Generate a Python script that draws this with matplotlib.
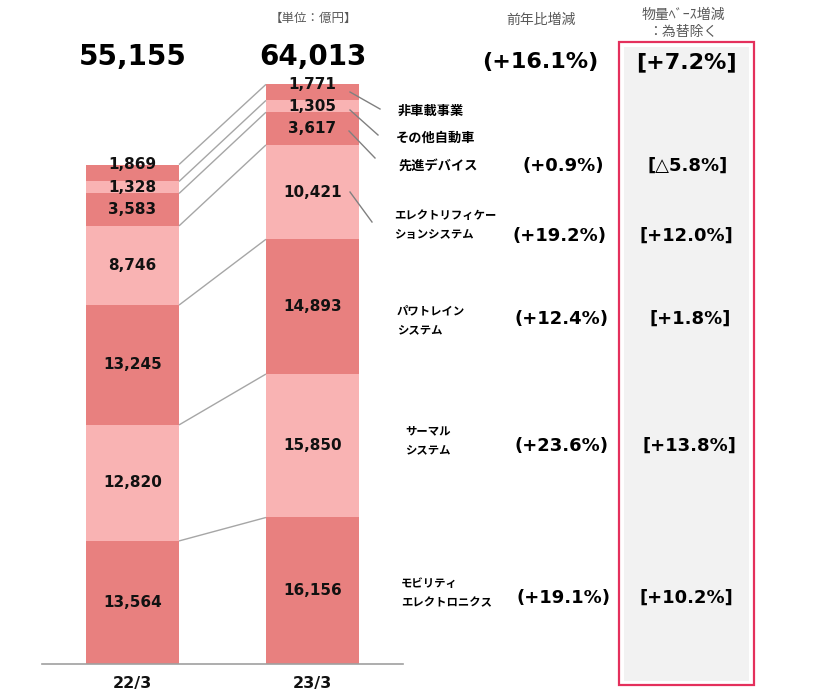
import matplotlib.pyplot as plt
from matplotlib.patches import Rectangle
from matplotlib.transforms import blended_transform_factory

plt.rcParams['font.family'] = ['DejaVu Sans', 'Noto Sans CJK JP']

periods = ['22/3', '23/3']
segments = ['モビリティ\nエレクトロニクス', 'サーマル\nシステム', 'パワトレイン\nシステム',
            'エレクトリフィケー\nションシステム', '先進デバイス', 'その他自動車', '非車載事業']
values_22 = [13564, 12820, 13245, 8746, 3583, 1328, 1869]
values_23 = [16156, 15850, 14893, 10421, 3617, 1305, 1771]
totals = [55155, 64013]
yoy = ['(+19.1%)', '(+23.6%)', '(+12.4%)', '(+19.2%)', '(+0.9%)', None, None]
vol = ['[+10.2%]', '[+13.8%]', '[+1.8%]', '[+12.0%]', '[△5.8%]', None, None]
yoy_total = '(+16.1%)'
vol_total = '[+7.2%]'

dark = '#E8807F'
light = '#F9B3B3'
seg_colors = [dark, light, dark, light, dark, light, dark]
jp = ['Noto Sans CJK JP', 'DejaVu Sans']

W, H = 834, 697
fig = plt.figure(figsize=(W / 100, H / 100), dpi=100)


def px(x, y):
    return x / W, 1 - y / H


# bars axis: baseline at y=663.7px, 0.00905 px per unit
base = 663.7
scale = 0.00905
ax = fig.add_axes([42 / W, 1 - base / H, (403 - 42) / W, base / H])
ax.set_xlim(-0.503, 1.503)
ax.set_ylim(0, base / scale)
ax.set_xticks([])
ax.set_yticks([])
for s in ['top', 'left', 'right']:
    ax.spines[s].set_visible(False)
ax.spines['bottom'].set_color('#A0A0A0')
ax.spines['bottom'].set_linewidth(1.2)
ax.patch.set_alpha(0)

bw = 0.517
series = [values_22, values_23]
tops = []
for i, vals in enumerate(series):
    bottom = 0
    t = []
    for j, v in enumerate(vals):
        ax.bar(i, v, bottom=bottom, width=bw, color=seg_colors[j], edgecolor='none')
        dy = 0
        if j == 6:
            dy = 6
        ax.annotate(f'{v:,}', (i, bottom + v / 2), xytext=(0, dy), textcoords='offset points',
                    ha='center', va='center', fontsize=11, fontweight='bold', color='#111111')
        bottom += v
        t.append(bottom)
    tops.append(t)

# connector lines between bars
for k in range(len(values_22)):
    ax.plot([bw / 2, 1 - bw / 2], [tops[0][k], tops[1][k]], color='#A6A6A6', lw=1,
            solid_capstyle='butt')

# totals, both on one line above the bars
tr = blended_transform_factory(ax.transData, fig.transFigure)
for i, tot in enumerate(totals):
    ax.text(i, 1 - 57 / H, f'{tot:,}', transform=tr, ha='center', va='center',
            fontsize=20, fontweight='bold', color='black')

# period labels
for i, p in enumerate(periods):
    ax.annotate(p, (i, 0), xytext=(0, -14), textcoords='offset points', ha='center',
                va='center', fontsize=11.5, fontweight='bold', color='#111111')

# right-hand box
fig.patches.append(Rectangle(px(624, 681), 125 / W, (681 - 47) / H, transform=fig.transFigure,
                             facecolor='#F2F2F2', edgecolor='none'))
fig.patches.append(Rectangle(px(619, 685), 135 / W, (685 - 42) / H, transform=fig.transFigure,
                             facecolor='none', edgecolor='#E4305C', lw=1.6))

# headers
fig.text(*px(313, 18), '【単位：億円】', ha='center', va='center', fontsize=9, color='#595959',
         family=jp)
fig.text(*px(541, 20), '前年比増減', ha='center', va='center', fontsize=10, color='#595959',
         family=jp)
fig.text(*px(683, 15), '物量ﾍﾞｰｽ増減', ha='center', va='center', fontsize=10, color='#595959',
         family=jp)
fig.text(*px(683, 32), '：為替除く', ha='center', va='center', fontsize=10, color='#595959',
         family=jp)

fig.text(*px(540, 62), yoy_total, ha='center', va='center', fontsize=16, fontweight='bold')
fig.text(*px(686, 62), vol_total, ha='center', va='center', fontsize=16, fontweight='bold')

# segment labels, growth rates
label_pos = [(401, 593), (405, 440), (397, 320), (394, 225), (398, 166), (396, 138), (398, 111)]
rate_y = [598, 446, 319, 236, 166, None, None]
rate_x = [563, 562, 562, 560, 563, None, None]
vol_x = [686, 689, 690, 686, 688, None, None]
for j, name in enumerate(segments):
    x, y = label_pos[j]
    size = 9.5 if '\n' not in name else 8.2
    fig.text(*px(x, y), name, ha='left', va='center', fontsize=size, fontweight='bold',
             family=jp, linespacing=1.55)
    if yoy[j] is not None:
        fig.text(*px(rate_x[j], rate_y[j]), yoy[j], ha='center', va='center', fontsize=13,
                 fontweight='bold')
        fig.text(*px(vol_x[j], rate_y[j]), vol[j], ha='center', va='center', fontsize=13,
                 fontweight='bold')

# leader lines from 23/3 bar to labels
leaders = [((350, 92), (380, 109)), ((350, 110), (378, 135)),
           ((349, 131), (375, 158)), ((350, 192), (372, 222))]
for (x0, y0), (x1, y1) in leaders:
    fig.add_artist(plt.Line2D([x0 / W, x1 / W], [1 - y0 / H, 1 - y1 / H],
                              transform=fig.transFigure, color='#808080', lw=1))

fig.savefig('out.png', dpi=100)
